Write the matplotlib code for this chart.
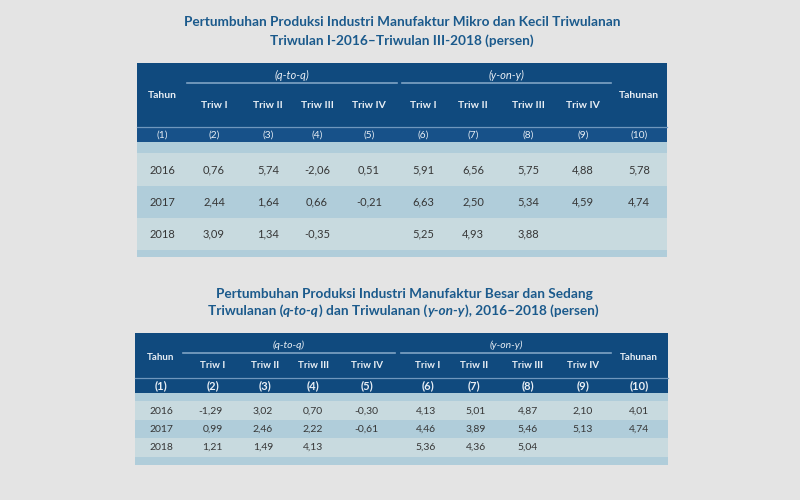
import matplotlib
matplotlib.use("Agg")
import matplotlib.pyplot as plt
from matplotlib.patches import Rectangle

plt.rcParams['font.family'] = ['Lato', 'DejaVu Sans']

# ---- data ----
years = ["2016", "2017", "2018"]
col_numbers = ["(1)", "(2)", "(3)", "(4)", "(5)", "(6)", "(7)", "(8)", "(9)", "(10)"]
quarters = ["Triw I", "Triw II", "Triw III", "Triw IV"]

# mikro dan kecil
mk_qtq = [[0.76, 5.74, -2.06, 0.51],
          [2.44, 1.64, 0.66, -0.21],
          [3.09, 1.34, -0.35, None]]
mk_yoy = [[5.91, 6.56, 5.75, 4.88],
          [6.63, 2.50, 5.34, 4.59],
          [5.25, 4.93, 3.88, None]]
mk_annual = [5.78, 4.74, None]

# besar dan sedang
bs_qtq = [[-1.29, 3.02, 0.70, -0.30],
          [0.99, 2.46, 2.22, -0.61],
          [1.21, 1.49, 4.13, None]]
bs_yoy = [[4.13, 5.01, 4.87, 2.10],
          [4.46, 3.89, 5.46, 5.13],
          [5.36, 4.36, 5.04, None]]
bs_annual = [4.01, 4.74, None]

title_top = ["Pertumbuhan Produksi Industri Manufaktur Mikro dan Kecil Triwulanan",
             "Triwulan I-2016\u2013Triwulan III-2018 (persen)"]
title_bot1 = "Pertumbuhan Produksi Industri Manufaktur Besar dan Sedang"
title_bot2 = [("Triwulanan (", "normal"), ("q-to-q", "italic"),
              (") dan Triwulanan (", "normal"), ("y-on-y", "italic"),
              ("), 2016\u20132018 (persen)", "normal")]

# ---- colours ----
BG = "#e4e4e4"
DARK = "#104a7e"
NUMROW = "#175189"
SEP = "#6f97bd"
LIGHT = "#c8dadf"
BLUE = "#b0cdda"
TITLE = "#1b5a8c"
HDR_TXT = "#e9eff5"
CELL_TXT = "#363636"
TITLE_FS = 9.8


def fmt(v):
    if v is None:
        return ""
    return f"{v:.2f}".replace(".", ",")


fig = plt.figure(figsize=(8, 5), dpi=100)
fig.patch.set_facecolor(BG)
ax = fig.add_axes([0, 0, 1, 1])
ax.set_xlim(0, 800)
ax.set_ylim(500, 0)
ax.axis("off")


def rect(x0, y0, x1, y1, color):
    ax.add_patch(Rectangle((x0, y0), x1 - x0, y1 - y0, facecolor=color,
                           edgecolor="none"))


def rich_line(pieces, xc, y, size):
    # draw mixed normal/italic pieces centered on xc
    r = fig.canvas.get_renderer()
    arts = []
    for s, st in pieces:
        t = ax.text(0, y, s, fontsize=size, fontweight="bold", fontstyle=st,
                    color=TITLE, ha="left", va="center")
        arts.append(t)
    widths = [a.get_window_extent(r).width for a in arts]
    x = xc - sum(widths) / 2
    for a, w in zip(arts, widths):
        a.set_x(x)
        x += w


def draw_table(L, R, hdr, sep_y, num_bot, bands, group_y, line_y, line_spans,
               tahun_y, triw_y, num_y, hdr_x, row_y, qtq, yoy, annual,
               data_x, data_ha, fs_hdr, fs_num, num_bold, fs_data, num_color):
    rect(L, hdr, R, sep_y, DARK)
    rect(L, sep_y, R, num_bot, num_color)
    ax.plot([L, R], [sep_y, sep_y], color=SEP, lw=0.9)
    for (y0, y1), c in bands:
        rect(L, y0, R, y1, c)
    # group headers
    for (x0, x1), lab in zip(line_spans, ["(q-to-q)", "(y-on-y)"]):
        ax.plot([x0, x1], [line_y, line_y], color="#7fa3c4", lw=1.2)
        ax.text((x0 + x1) / 2, group_y, lab, fontsize=fs_hdr + 0.5,
                fontstyle="italic", color=HDR_TXT, ha="center", va="center")
    ax.text(hdr_x[0], tahun_y, "Tahun", fontsize=fs_hdr, fontweight="bold",
            color=HDR_TXT, ha="center", va="center")
    ax.text(hdr_x[-1], tahun_y, "Tahunan", fontsize=fs_hdr, fontweight="bold",
            color=HDR_TXT, ha="center", va="center")
    for i, q in enumerate(quarters + quarters):
        ax.text(hdr_x[i + 1], triw_y, q, fontsize=fs_hdr, fontweight="bold",
                color=HDR_TXT, ha="center", va="center")
    for i, n in enumerate(col_numbers):
        ax.text(hdr_x[i], num_y, n, fontsize=fs_num,
                fontweight="bold" if num_bold else "normal",
                color=HDR_TXT, ha="center", va="center")
    # body
    for r, yr in enumerate(years):
        ax.text(hdr_x[0], row_y[r], yr, fontsize=fs_data, color=CELL_TXT,
                ha="center", va="center")
        vals = qtq[r] + yoy[r] + [annual[r]]
        for c, v in enumerate(vals):
            ax.text(data_x[c], row_y[r], fmt(v), fontsize=fs_data,
                    color=CELL_TXT, ha=data_ha, va="center")


# ---- top table ----
ax.text(402, 22, title_top[0], fontsize=TITLE_FS, fontweight="bold",
        color=TITLE, ha="center", va="center")
ax.text(402, 41, title_top[1], fontsize=TITLE_FS, fontweight="bold",
        color=TITLE, ha="center", va="center")

top_x = [162, 214, 268, 317, 369, 423, 473, 528, 583, 639]
draw_table(137, 667, 63, 126.5, 142,
           [((142, 153), BLUE), ((153, 186), LIGHT), ((186, 218), BLUE),
            ((218, 250), LIGHT), ((250, 257), BLUE)],
           75, 83, [(187, 397), (402, 611)],
           95, 106, 135, top_x, [170, 202, 234],
           mk_qtq, mk_yoy, mk_annual, top_x[1:], "center",
           7.5, 7.3, False, 8, NUMROW)

# ---- bottom table ----
ax.text(404, 294, title_bot1, fontsize=TITLE_FS, fontweight="bold",
        color=TITLE, ha="center", va="center")
rich_line(title_bot2, 403, 311, TITLE_FS)

bot_x = [161, 213, 265, 313, 367, 428, 474, 528, 583, 639]
bot_right = [223, 273, 323, 378, 436, 486, 538, 593, 649]
draw_table(135, 668, 333, 377.5, 393,
           [((393, 401), BLUE), ((401, 420), LIGHT), ((420, 438), BLUE),
            ((438, 457), LIGHT), ((457, 465), BLUE)],
           345, 353, [(183, 395), (401, 611)],
           357, 366, 386, bot_x, [411, 429, 447],
           bs_qtq, bs_yoy, bs_annual, bot_right, "right",
           7, 8, True, 7.5, DARK)

fig.savefig("out.png", dpi=100, facecolor=BG)
